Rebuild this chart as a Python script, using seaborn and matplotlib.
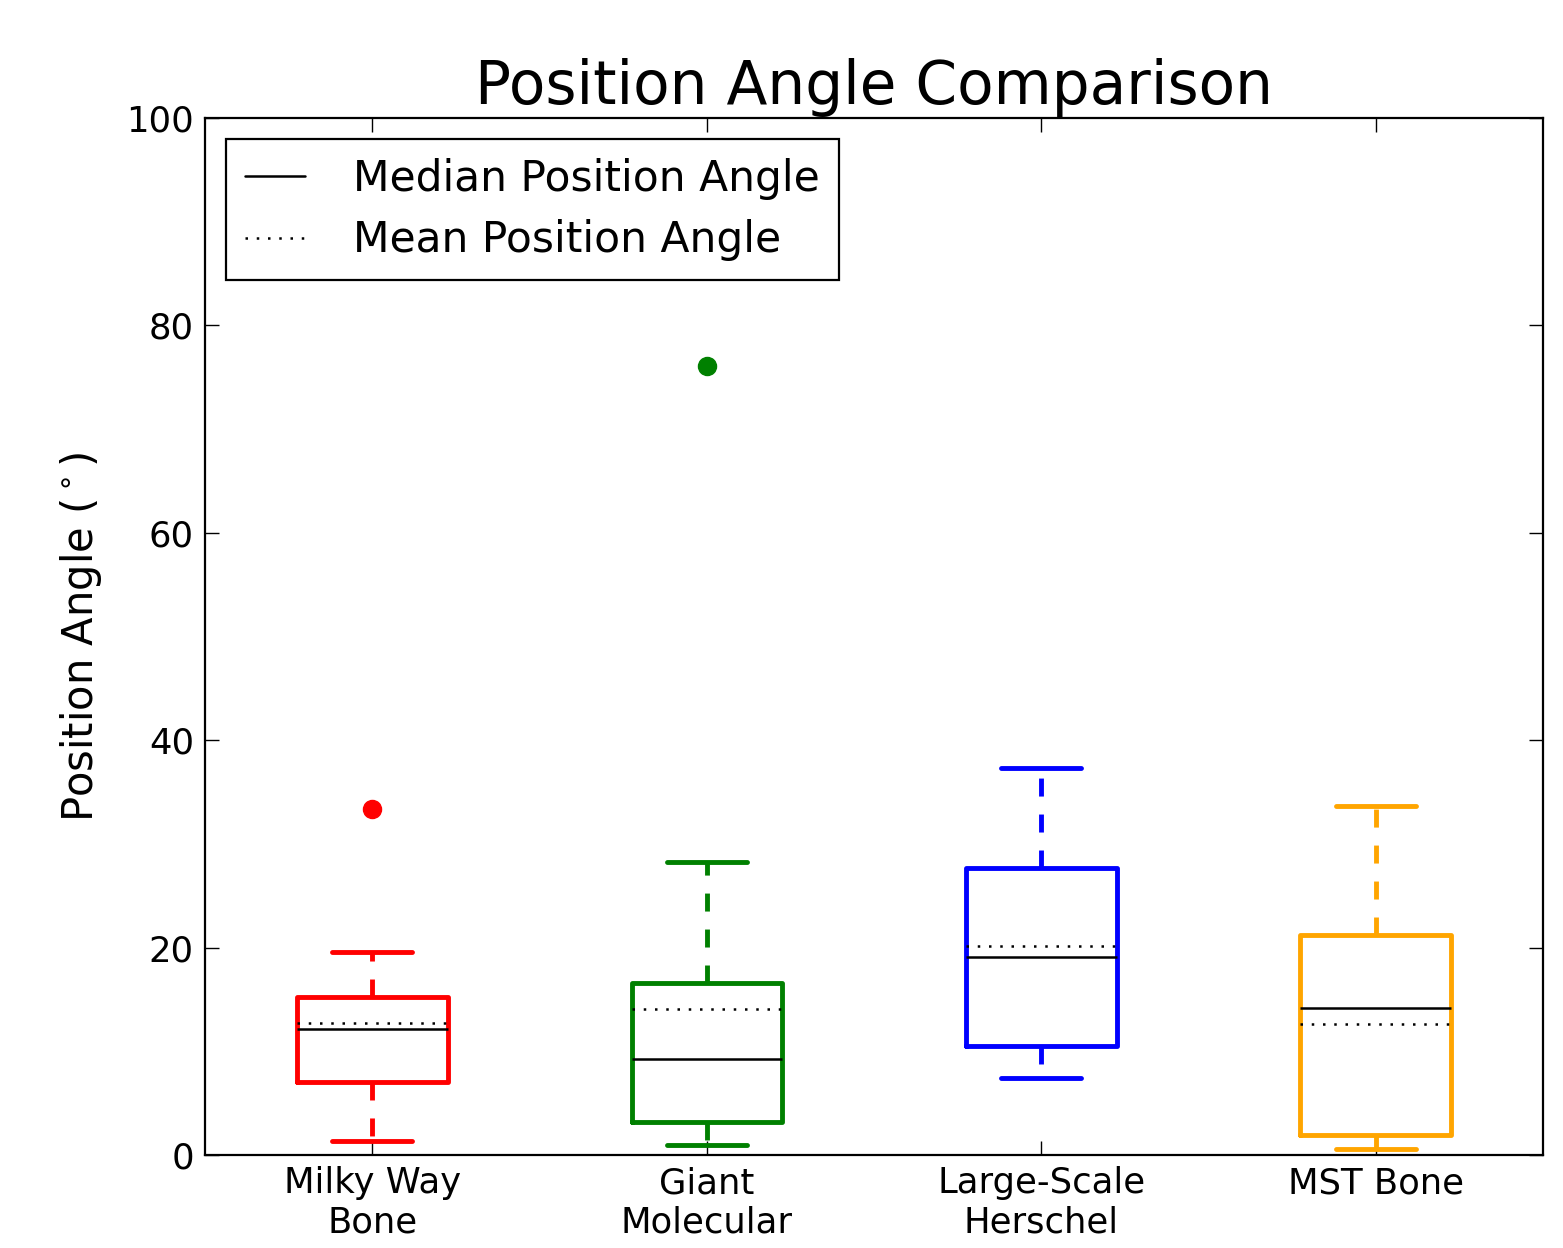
import matplotlib
matplotlib.use("Agg")
import matplotlib.pyplot as plt
import seaborn as sns
from matplotlib.lines import Line2D

# Data
categories = ["Milky Way\nBone", "Giant\nMolecular", "Large-Scale\nHerschel", "MST Bone"]
medians = [12.2, 9.3, 19.1, 14.2]
means = [12.7, 14.1, 20.2, 12.6]
q1s = [7.0, 3.2, 10.5, 1.9]
q3s = [15.2, 16.6, 27.7, 21.2]
whis_lo = [1.35, 1.0, 7.4, 0.6]
whis_hi = [19.6, 28.3, 37.3, 33.7]
fliers = [[33.4], [76.1], [], []]
colors = ["#ff0000", "#008000", "#0000ff", "#ffa500"]

sns.set_theme(style="ticks")
plt.rcParams["font.family"] = ["DejaVu Sans"]
plt.rcParams["mathtext.fontset"] = "dejavusans"
plt.rcParams["text.color"] = "black"
plt.rcParams["axes.labelcolor"] = "black"

fig = plt.figure(figsize=(15.63, 12.48), dpi=100)
ax = fig.add_axes([0.1312, 0.0745, 0.8560, 0.8309])

for i in range(len(categories)):
    stats = [dict(med=medians[i], mean=means[i], q1=q1s[i], q3=q3s[i],
                  whislo=whis_lo[i], whishi=whis_hi[i], fliers=fliers[i])]
    c = colors[i]
    ax.bxp(stats, positions=[i + 1], widths=0.45, capwidths=0.24,
           showmeans=True, meanline=True, manage_ticks=False,
           boxprops=dict(color=c, linewidth=3.5),
           whiskerprops=dict(color=c, linewidth=3.5, linestyle=(0, (3.7, 3.7))),
           capprops=dict(color=c, linewidth=3.5),
           medianprops=dict(color="black", linewidth=1.8),
           meanprops=dict(color="black", linewidth=1.8, linestyle=(0, (1, 3.5))),
           flierprops=dict(marker="o", markerfacecolor=c, markeredgecolor=c,
                           markersize=13))

ax.set_xlim(0.5, 4.5)
ax.set_ylim(0, 100)
ax.set_xticks(range(1, len(categories) + 1))
ax.set_xticklabels(categories)
ax.set_yticks([0, 20, 40, 60, 80, 100])
ax.tick_params(direction="in", length=10, width=1, labelsize=25.5,
               top=True, right=True, pad=8, colors="black")
for sp in ax.spines.values():
    sp.set_linewidth(1.6)
    sp.set_color("black")

ax.set_title("Position Angle Comparison", fontsize=43, pad=10, color="black")
ax.set_ylabel(r"Position Angle ($^\circ$)", fontsize=30, labelpad=16, color="black")

handles = [Line2D([], [], color="black", linewidth=1.8),
           Line2D([], [], color="black", linewidth=1.8, linestyle=(0, (1, 3.5)))]
leg = ax.legend(handles, ["Median Position Angle", "Mean Position Angle"],
                loc="upper left", fontsize=30.5, frameon=True, fancybox=False,
                edgecolor="black", framealpha=1, handlelength=1.4,
                borderaxespad=0.5, handletextpad=1.15, labelspacing=0.45,
                borderpad=0.45)
leg.get_frame().set_linewidth(1.6)
for t in leg.get_texts():
    t.set_color("black")

fig.savefig("out.png", dpi=100)
